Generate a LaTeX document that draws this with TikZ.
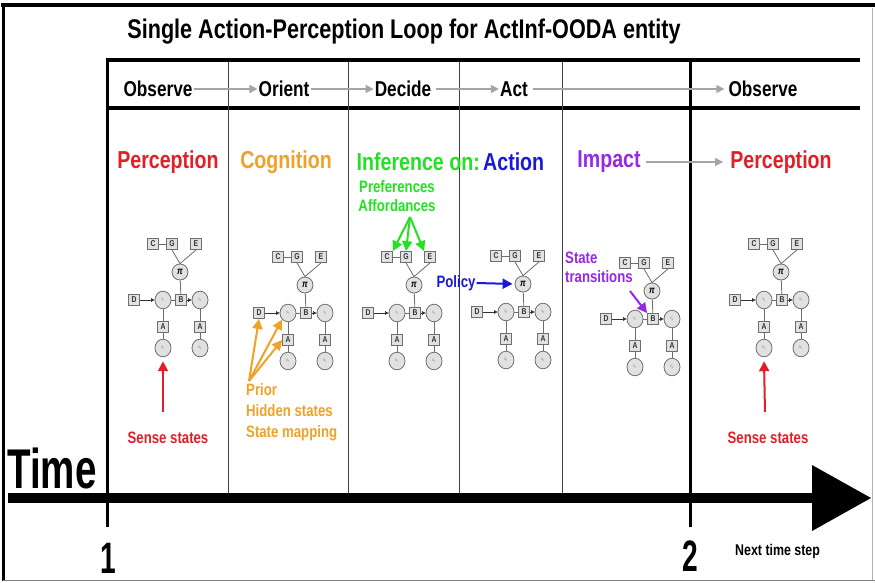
\documentclass[tikz,border=0pt]{standalone}
\usepackage{fontspec}
\setmainfont{Liberation Sans}[FakeStretch=0.8]
\usetikzlibrary{arrows.meta}
\definecolor{cred}{RGB}{226,30,38}
\definecolor{corange}{RGB}{240,162,40}
\definecolor{cgreen}{RGB}{35,225,35}
\definecolor{cblue}{RGB}{25,25,215}
\definecolor{cpurple}{RGB}{150,40,230}
\definecolor{cgray}{RGB}{165,165,165}
\definecolor{gborder}{RGB}{110,110,110}
\definecolor{gfill}{RGB}{225,225,225}
\tikzset{
  lbl/.style={font=\bfseries\fontsize{24.5}{28}\selectfont, inner sep=1pt},
  hdr/.style={font=\bfseries\fontsize{21.5}{24}\selectfont, inner sep=1pt},
  note/.style={font=\bfseries\fontsize{16.5}{21}\selectfont, inner sep=1pt, align=left},
  gbox/.style={draw=gborder, fill=gfill, line width=0.8pt, minimum size=11pt, inner sep=0pt, font=\bfseries\fontsize{8.5}{9}\selectfont, text=black!80},
  gcirc/.style={draw=gborder, fill=gfill, line width=0.8pt, circle, minimum size=16pt, inner sep=0pt, yscale=1.1, font=\fontsize{4}{4}\selectfont, text=gray},
  gline/.style={draw=gborder, line width=0.8pt},
  garrow/.style={draw=black!80, line width=0.8pt, -{Triangle[length=3.5pt,width=3.5pt]}},
  hdrarrow/.style={draw=cgray, line width=1.4pt, -{Triangle[length=8pt,width=8pt]}},
  annarrow/.style={line width=2pt, -{Triangle[length=10pt,width=10pt]}},
  thinsep/.style={draw=black!75, line width=0.8pt},
  thicksep/.style={draw=black, line width=3pt},
}
\newcommand{\aifgraph}[3]{%
  \begin{scope}[shift={(#2,#3)}]
    \node[gbox] (#1C) at (-10,-56) {C};
    \node[gbox] (#1G) at (9,-56) {G};
    \node[gbox] (#1E) at (33,-56) {E};
    \node[draw=gborder, fill=gfill, line width=0.8pt, circle, minimum size=16pt, inner sep=0pt, font=\bfseries\itshape\fontsize{10}{10}\selectfont] (#1P) at (17,-28) {π};
    \node[gbox] (#1D) at (-29,0) {D};
    \node[gcirc] (#1S1) at (0,0) {s\textsubscript{1}};
    \node[gbox] (#1B) at (18,0) {B};
    \node[gcirc] (#1S2) at (37,0) {s\textsubscript{2}};
    \node[gbox] (#1A1) at (0,27) {A};
    \node[gcirc] (#1O1) at (0,48) {o\textsubscript{1}};
    \node[gbox] (#1A2) at (37,27) {A};
    \node[gcirc] (#1O2) at (37,48) {o\textsubscript{2}};
    \draw[gline] (#1C) -- (#1G);
    \draw[gline] (#1G.south) -- (#1P.north);
    \draw[gline] (#1E.south) -- (#1P.north);
    \draw[gline] (#1P) -- (#1B);
    \draw[garrow] (#1D) -- (#1S1);
    \draw[gline] (#1S1) -- (#1B);
    \draw[garrow] (#1B) -- (#1S2);
    \draw[gline] (#1S1) -- (#1A1);
    \draw[gline] (#1A1) -- (#1O1);
    \draw[gline] (#1S2) -- (#1A2);
    \draw[gline] (#1A2) -- (#1O2);
  \end{scope}}
\begin{document}
\begin{tikzpicture}[x=1pt, y=-1pt]
\useasboundingbox (0,0) rectangle (875,582);
\fill[white] (0,0) rectangle (875,582);
% outer frame
\draw[line width=4pt] (1,5) -- (875,5);
\draw[line width=3pt] (3,4) -- (3,581);
\draw[draw=gray, line width=1pt] (3,580.5) -- (875,580.5);
\draw[draw=gray!60, line width=0.6pt] (872,8) -- (872,580);
% title
\node[font=\bfseries\fontsize{27}{30}\selectfont, inner sep=0pt] (title) at (404,32) {Single Action-Perception Loop for ActInf-OODA entity};
% table lines
\draw[line width=4pt] (105.5,60) -- (860,60);
\draw[line width=4pt] (105.5,108) -- (860,108);
\draw[thicksep] (107,58) -- (107,527);
\draw[thicksep] (690,58) -- (690,527);
\foreach \xx in {228,348,459,562} \draw[thinsep] (\xx,62) -- (\xx,495);
% time arrow
\draw[line width=10pt] (8,498) -- (815,498);
\fill (812,465) -- (871,498) -- (812,531) -- cycle;
% header row
\node[hdr] (obs1) at (158,89) {Observe};
\node[hdr] (ori) at (284,89) {Orient};
\node[hdr] (dec) at (403,89) {Decide};
\node[hdr] (act) at (514,89) {Act};
\node[hdr] (obs2) at (763,89) {Observe};
\draw[hdrarrow] (obs1) -- (ori);
\draw[hdrarrow] (ori) -- (dec);
\draw[hdrarrow, shorten <=4pt] (dec) -- (act);
\draw[hdrarrow, shorten <=4pt, shorten >=3pt] (act) -- (obs2);
% section labels
\node[lbl, text=cred] (perc1) at (168,162) {Perception};
\node[lbl, text=corange] (cogn) at (286,162) {Cognition};
\node[lbl, text=cgreen, anchor=east] (infer) at (481,162) {Inference on:};
\node[lbl, text=cblue, anchor=west] (actn) at (482,162) {Action};
\node[lbl, text=cpurple] (impact) at (609,162) {Impact};
\node[lbl, text=cred] (perc2) at (781,162) {Perception};
\draw[hdrarrow, shorten <=4pt, shorten >=6pt] (impact) -- (perc2);
% graphs
\aifgraph{ga}{163}{300}
\aifgraph{gb}{288}{313}
\aifgraph{gc}{397}{313}
\aifgraph{gd}{506}{312}
\aifgraph{ge}{635}{319}
\aifgraph{gf}{764}{300}
% perception annotations
\node[note, text=cred] (sense1) at (168,438) {Sense states};
\coordinate (sa1) at (163,412);
\draw[annarrow, draw=cred, fill=cred] (sa1) -- ([yshift=-4pt]gaO1.south);
\node[note, text=cred] (sense2) at (768,438) {Sense states};
\coordinate (sa2) at (765,412);
\draw[annarrow, draw=cred, fill=cred] (sa2) -- ([yshift=-4pt]gfO1.south);
% cognition annotations
\node[note, text=corange, anchor=north west] (cogtxt) at (245,382) {Prior\\Hidden states\\State mapping};
\coordinate (co) at (249,381);
\draw[annarrow, draw=corange, fill=corange] (co) -- (gbD.south);
\draw[annarrow, draw=corange, fill=corange] (co) -- (gbS1.south west);
\draw[annarrow, draw=corange, fill=corange] (co) -- (gbA1.west);
% inference annotations
\node[note, text=cgreen, align=center] (preftxt) at (397,196) {Preferences\\[-2pt]Affordances};
\coordinate (go) at (410,217);
\draw[annarrow, draw=cgreen, fill=cgreen] (go) -- (gcC.north east);
\draw[annarrow, draw=cgreen, fill=cgreen] (go) -- (gcG.north);
\draw[annarrow, draw=cgreen, fill=cgreen] (go) -- (gcE.north west);
% policy
\node[note, text=cblue] (policy) at (456,283) {Policy};
\draw[annarrow, draw=cblue, fill=cblue, shorten >=2pt] (policy.east) -- (gdP.west);
% state transitions
\node[note, text=cpurple, anchor=north west] (sttxt) at (564,251) {State\\[-2pt]transitions};
\coordinate (po) at (630,291);
\draw[annarrow, draw=cpurple, fill=cpurple] (po) -- (geB.north west);
% time labels
\node[font=\bfseries\fontsize{56}{60}\selectfont, inner sep=0pt, anchor=base west] (time) at (7,488) {\scalebox{0.86}[1]{Time}};
\node[font=\bfseries\fontsize{44}{48}\selectfont, inner sep=0pt, anchor=base] (one) at (108,573) {\scalebox{0.8}[1]{1}};
\node[font=\bfseries\fontsize{44}{48}\selectfont, inner sep=0pt, anchor=base] (two) at (690,571) {\scalebox{0.8}[1]{2}};
\node[font=\bfseries\fontsize{15.5}{16}\selectfont, inner sep=0pt, anchor=west] (next) at (735,551) {Next time step};
\end{tikzpicture}
\end{document}
